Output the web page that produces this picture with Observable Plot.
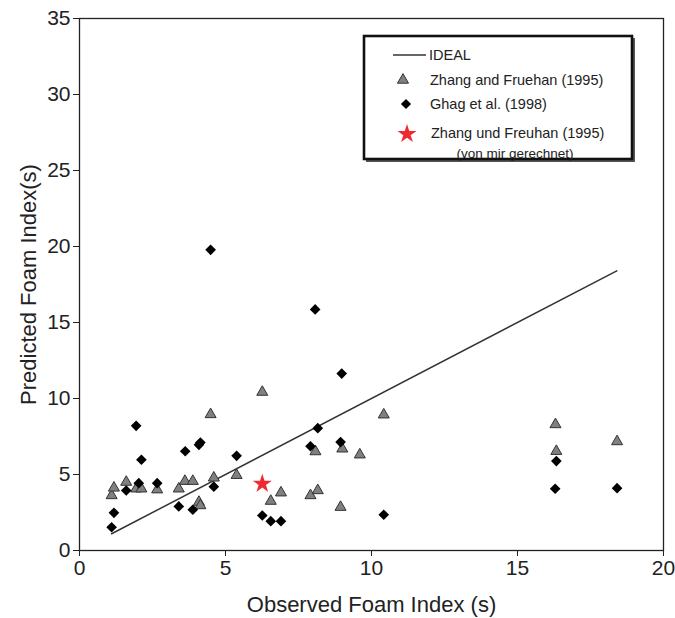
<!DOCTYPE html>
<html>
<head>
<meta charset="utf-8">
<script src="https://cdn.jsdelivr.net/npm/d3@7"></script>
<script src="https://cdn.jsdelivr.net/npm/@observablehq/plot@0.6"></script>
<style>
  html, body { margin: 0; padding: 0; background: #fff; }
  #wrap { position: relative; width: 675px; height: 618px; font-family: "Liberation Sans", Arial, sans-serif; }
  #legend { position: absolute; left: 362px; top: 34px; }
</style>
</head>
<body>
<div id="wrap"></div>
<script>
// ---- data ----
const xTicks = [0, 5, 10, 15, 20];
const yTicks = [0, 5, 10, 15, 20, 25, 30, 35];
const xLabel = "Observed Foam Index (s)";
const yLabel = "Predicted Foam Index(s)";

const idealObs  = [1.1, 18.4];
const idealPred = [1.1, 18.4];

const zhangObs  = [1.1, 1.18, 1.6, 1.94, 2.12, 2.66, 3.4, 3.61, 3.88, 4.09, 4.14, 4.49, 4.6, 5.38, 6.26, 6.55, 6.9, 7.91, 8.08, 8.16, 8.94, 9.0, 9.6, 10.42, 16.3, 16.33, 18.41];
const zhangPred = [3.62, 4.12, 4.5, 4.06, 4.06, 4.0, 4.06, 4.56, 4.56, 3.18, 2.96, 8.95, 4.78, 4.95, 10.42, 3.25, 3.8, 3.62, 6.51, 3.95, 2.85, 6.69, 6.3, 8.93, 8.29, 6.53, 7.17];

const ghagObs  = [1.1, 1.18, 1.6, 1.94, 2.03, 2.12, 2.66, 3.4, 3.62, 3.88, 4.09, 4.14, 4.49, 4.6, 5.38, 6.26, 6.55, 6.9, 7.91, 8.07, 8.16, 8.94, 8.98, 10.42, 16.33, 16.29, 18.41];
const ghagPred = [1.53, 2.48, 3.95, 8.2, 4.43, 5.97, 4.43, 2.9, 6.53, 2.68, 6.95, 7.1, 19.78, 4.2, 6.23, 2.3, 1.93, 1.93, 6.86, 15.86, 8.05, 7.13, 11.64, 2.35, 5.88, 4.06, 4.1];

const starObs  = [6.26];
const starPred = [4.39];

const legendLabels = ["IDEAL", "Zhang and Fruehan (1995)", "Ghag et al. (1998)", "Zhang und Freuhan (1995)", "(von mir gerechnet)"];

const toRows = (xs, ys) => xs.map((x, i) => ({x, y: ys[i]}));

const chart = Plot.plot({
  width: 675,
  height: 618,
  marginTop: 18,
  marginBottom: 68,
  marginLeft: 79,
  marginRight: 12,
  style: {fontFamily: "Liberation Sans, Arial, sans-serif", fontSize: "21px", color: "#222", background: "#fff"},
  x: {domain: [0, 20]},
  y: {domain: [0, 35]},
  marks: [
    Plot.frame({stroke: "#222", strokeWidth: 1.3}),
    Plot.axisX({ticks: xTicks, tickSize: 6, tickPadding: 4, fontSize: 21, label: null, stroke: "#222"}),
    Plot.axisY({ticks: yTicks, tickSize: 6, tickPadding: 3, fontSize: 21, label: null, stroke: "#222"}),
    Plot.text([xLabel], {text: d => d, frameAnchor: "bottom", textAnchor: "middle", lineAnchor: "middle", dy: 54, fontSize: 22, fill: "#222"}),
    Plot.text([yLabel], {text: d => d, frameAnchor: "left", textAnchor: "middle", lineAnchor: "middle", dx: -51, rotate: -90, fontSize: 22, fill: "#222"}),
    Plot.line(toRows(idealObs, idealPred), {x: "x", y: "y", stroke: "#333", strokeWidth: 1.5}),
    Plot.dot(toRows(zhangObs, zhangPred), {x: "x", y: "y", symbol: "triangle", r: 4.1, fill: "#808080", stroke: "#333", strokeWidth: 1}),
    Plot.dot(toRows(ghagObs, ghagPred), {x: "x", y: "y", symbol: "diamond2", r: 4.8, fill: "#000", stroke: "none"}),
    Plot.dot(toRows(starObs, starPred), {x: "x", y: "y", symbol: "star", r: 6, fill: "#ee2a30", stroke: "none"})
  ]
});

const wrap = document.getElementById("wrap");
wrap.appendChild(chart);

// ---- legend ----
const W = 275, H = 130;
const lg = d3.create("svg").attr("id", "legend").attr("width", W).attr("height", H)
  .style("font-family", "Liberation Sans, Arial, sans-serif");
lg.append("rect").attr("x", 4).attr("y", 4).attr("width", 269).attr("height", 124).attr("fill", "#555");
lg.append("rect").attr("x", 2).attr("y", 2).attr("width", 268).attr("height", 123).attr("fill", "#fff").attr("stroke", "#111").attr("stroke-width", 2.6);
lg.append("line").attr("x1", 31).attr("x2", 64).attr("y1", 21).attr("y2", 21).attr("stroke", "#333").attr("stroke-width", 1.5);
const txt = (t, x, y, size) => lg.append("text").attr("x", x).attr("y", y).attr("font-size", size).attr("fill", "#222").text(t);
txt(legendLabels[0], 67, 26, 14.5);
lg.append("path").attr("d", d3.symbol(d3.symbolTriangle, Math.PI * 4.1 * 4.1)()).attr("transform", "translate(41,46)").attr("fill", "#808080").attr("stroke", "#333");
txt(legendLabels[1], 68, 51, 14.5);
lg.append("path").attr("d", d3.symbol(d3.symbolDiamond2, Math.PI * 4.6 * 4.6)()).attr("transform", "translate(44,70)").attr("fill", "#000");
txt(legendLabels[2], 68, 75, 14.5);
lg.append("path").attr("d", d3.symbol(d3.symbolStar, Math.PI * 6 * 6)()).attr("transform", "translate(45,100)").attr("fill", "#ee2a30");
txt(legendLabels[3], 69, 104, 14.5);
txt(legendLabels[4], 153, 124, 13.5).attr("text-anchor", "middle");
wrap.appendChild(lg.node());
</script>
</body>
</html>
